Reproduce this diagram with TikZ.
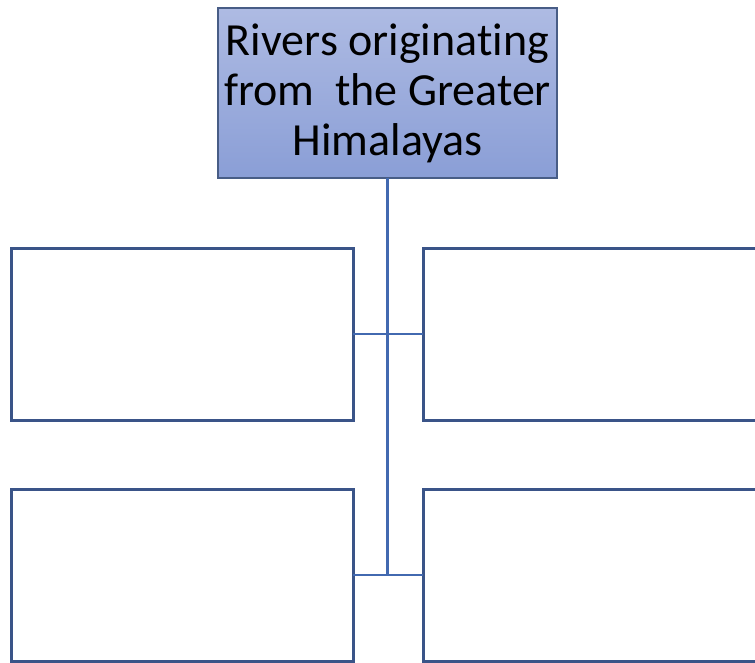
\documentclass[tikz,border=0pt]{standalone}
\usepackage{fontspec}
\setmainfont[Ligatures=NoCommon]{Carlito}
\usetikzlibrary{positioning}
\definecolor{boxline}{HTML}{3A5488}
\definecolor{conn}{HTML}{4269B0}
\definecolor{topA}{HTML}{AEBBE3}
\definecolor{topB}{HTML}{8A9ED6}
\tikzset{
  x=1pt,y=1pt,
  emptybox/.style={draw=boxline,line width=3pt,fill=white,minimum width=342pt,minimum height=172pt,inner sep=0pt,outer sep=0pt},
  titlebox/.style={draw=boxline!80!gray,line width=1.2pt,top color=topA,bottom color=topB,minimum width=339pt,minimum height=170pt,inner sep=0pt,outer sep=0pt,align=center,font=\fontsize{46}{50}\selectfont},
  link/.style={draw=conn,line width=2.6pt}
}
\begin{document}
\begin{tikzpicture}
\useasboundingbox (0,0) rectangle (755,-662);
\clip (0,0) rectangle (755,-662);
\fill[white] (0,0) rectangle (755,-662);
\node[titlebox] (top) at (387.5,-93) {Rivers originating\\from\ \ the Greater\\Himalayas};
\node[emptybox] (lt) at (182,-334) {};
\node[emptybox] (rt) at (594,-334) {};
\node[emptybox] (lb) at (182,-575) {};
\node[emptybox] (rb) at (594,-575) {};
\coordinate (j) at (top.south |- lb.east);
\draw[link] (top.south) -- (j);
\draw[link] (lt.east) -- (rt.west);
\draw[link] (lb.east) -- (rb.west);
\end{tikzpicture}
\end{document}
